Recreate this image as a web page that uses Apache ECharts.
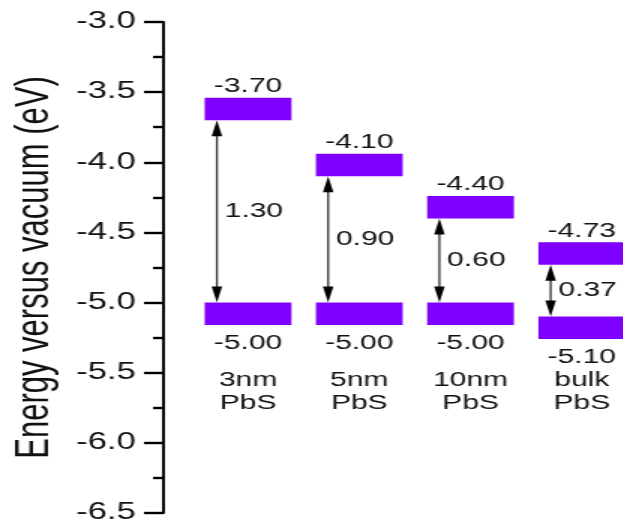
<!DOCTYPE html>
<html>
<head>
<meta charset="utf-8">
<script src="https://cdn.jsdelivr.net/npm/echarts@6/dist/echarts.min.js"></script>
<style>
  html, body { margin: 0; padding: 0; background: #fff; overflow: hidden; }
  /* the figure is laid out narrow and widened 1.5x, as in the published panel */
  #chart { width: 415.333px; height: 530px; transform: scaleX(1.5); transform-origin: 0 0; }
</style>
</head>
<body>
<div id="chart"></div>
<script>
// PbS energy levels versus vacuum, by particle size
const samples = ['3nm\nPbS', '5nm\nPbS', '10nm\nPbS', 'bulk\nPbS'];
const conductionBand = [-3.70, -4.10, -4.40, -4.73];
const valenceBand = [-5.00, -5.00, -5.00, -5.10];
const bandGap = [1.30, 0.90, 0.60, 0.37];
const samplePos = [1, 2, 3, 4];

const FONT = "'Liberation Sans', Arial, sans-serif";
const PURPLE = '#7f00ff';
const INK = '#111';

const levelRows = samplePos.map((x, i) => [x, conductionBand[i], valenceBand[i], bandGap[i]]);

function renderLevels(params, api) {
  const i = params.dataIndex;
  const x = api.value(0), cb = api.value(1), vb = api.value(2), gap = api.value(3);
  const p = (a, b) => api.coord([a, b]);
  const halfW = 0.39, thick = 0.16;

  const cbTL = p(x - halfW, cb + thick), cbBR = p(x + halfW, cb);
  const vbTL = p(x - halfW, vb), vbBR = p(x + halfW, vb - thick);

  const ax = x - 0.28;
  const top = p(ax, cb), bot = p(ax, vb);
  const headL = 16, headW = 3.5;
  const mid = p(x, 0)[0];
  const gapPt = p(ax + 0.07, (cb + vb) / 2);
  const catPt = p(x, -5.64);

  const txt = (t, px, py, size, align, va, extra) => ({
    type: 'text',
    style: Object.assign({
      text: t, x: px, y: py, fill: INK, font: size + 'px ' + FONT,
      align: align, verticalAlign: va
    }, extra || {})
  });

  return {
    type: 'group',
    children: [
      { type: 'rect', shape: { x: cbTL[0], y: cbTL[1], width: cbBR[0] - cbTL[0], height: cbBR[1] - cbTL[1] }, style: { fill: PURPLE } },
      { type: 'rect', shape: { x: vbTL[0], y: vbTL[1], width: vbBR[0] - vbTL[0], height: vbBR[1] - vbTL[1] }, style: { fill: PURPLE } },
      { type: 'line', shape: { x1: top[0], y1: top[1] + headL - 2, x2: bot[0], y2: bot[1] - headL + 2 }, style: { stroke: '#333', lineWidth: 1.3 } },
      { type: 'polygon', shape: { points: [[top[0], top[1]], [top[0] - headW, top[1] + headL], [top[0] + headW, top[1] + headL]] }, style: { fill: '#000' } },
      { type: 'polygon', shape: { points: [[bot[0], bot[1]], [bot[0] - headW, bot[1] - headL], [bot[0] + headW, bot[1] - headL]] }, style: { fill: '#000' } },
      txt(cb.toFixed(2), mid, cbTL[1] - 11, 20, 'center', 'middle'),
      txt(vb.toFixed(2), mid, vbBR[1] + 18, 20, 'center', 'middle'),
      txt(gap.toFixed(2), gapPt[0], gapPt[1], 20, 'left', 'middle'),
      txt(samples[i], catPt[0], catPt[1], 20, 'center', 'middle', { lineHeight: 23 })
    ]
  };
}

const chart = echarts.init(document.getElementById('chart'));
chart.setOption({
  animation: false,
  backgroundColor: '#fff',
  grid: { left: 107.333, right: 0, top: 22, bottom: 17 },
  xAxis: { type: 'value', min: 0.24, max: 4.366, show: false },
  yAxis: {
    type: 'value',
    min: -6.5, max: -3.0, interval: 0.5,
    name: 'Energy versus vacuum (eV)',
    nameLocation: 'middle',
    nameGap: 70,
    nameRotate: 90,
    nameTextStyle: { fontFamily: FONT, fontSize: 31, color: INK },
    axisLine: { show: true, lineStyle: { color: '#000', width: 1.9 } },
    axisTick: { show: true, length: 13, lineStyle: { color: '#000', width: 2.4 } },
    minorTick: { show: true, splitNumber: 2, length: 7, lineStyle: { color: '#000', width: 2.4 } },
    splitLine: { show: false },
    axisLabel: { fontFamily: FONT, fontSize: 23, color: INK, margin: 18.5, formatter: v => v.toFixed(1) }
  },
  series: [{
    type: 'custom',
    name: 'levels',
    clip: false,
    renderItem: renderLevels,
    encode: { x: 0, y: [1, 2] },
    data: levelRows
  }]
});
</script>
</body>
</html>
